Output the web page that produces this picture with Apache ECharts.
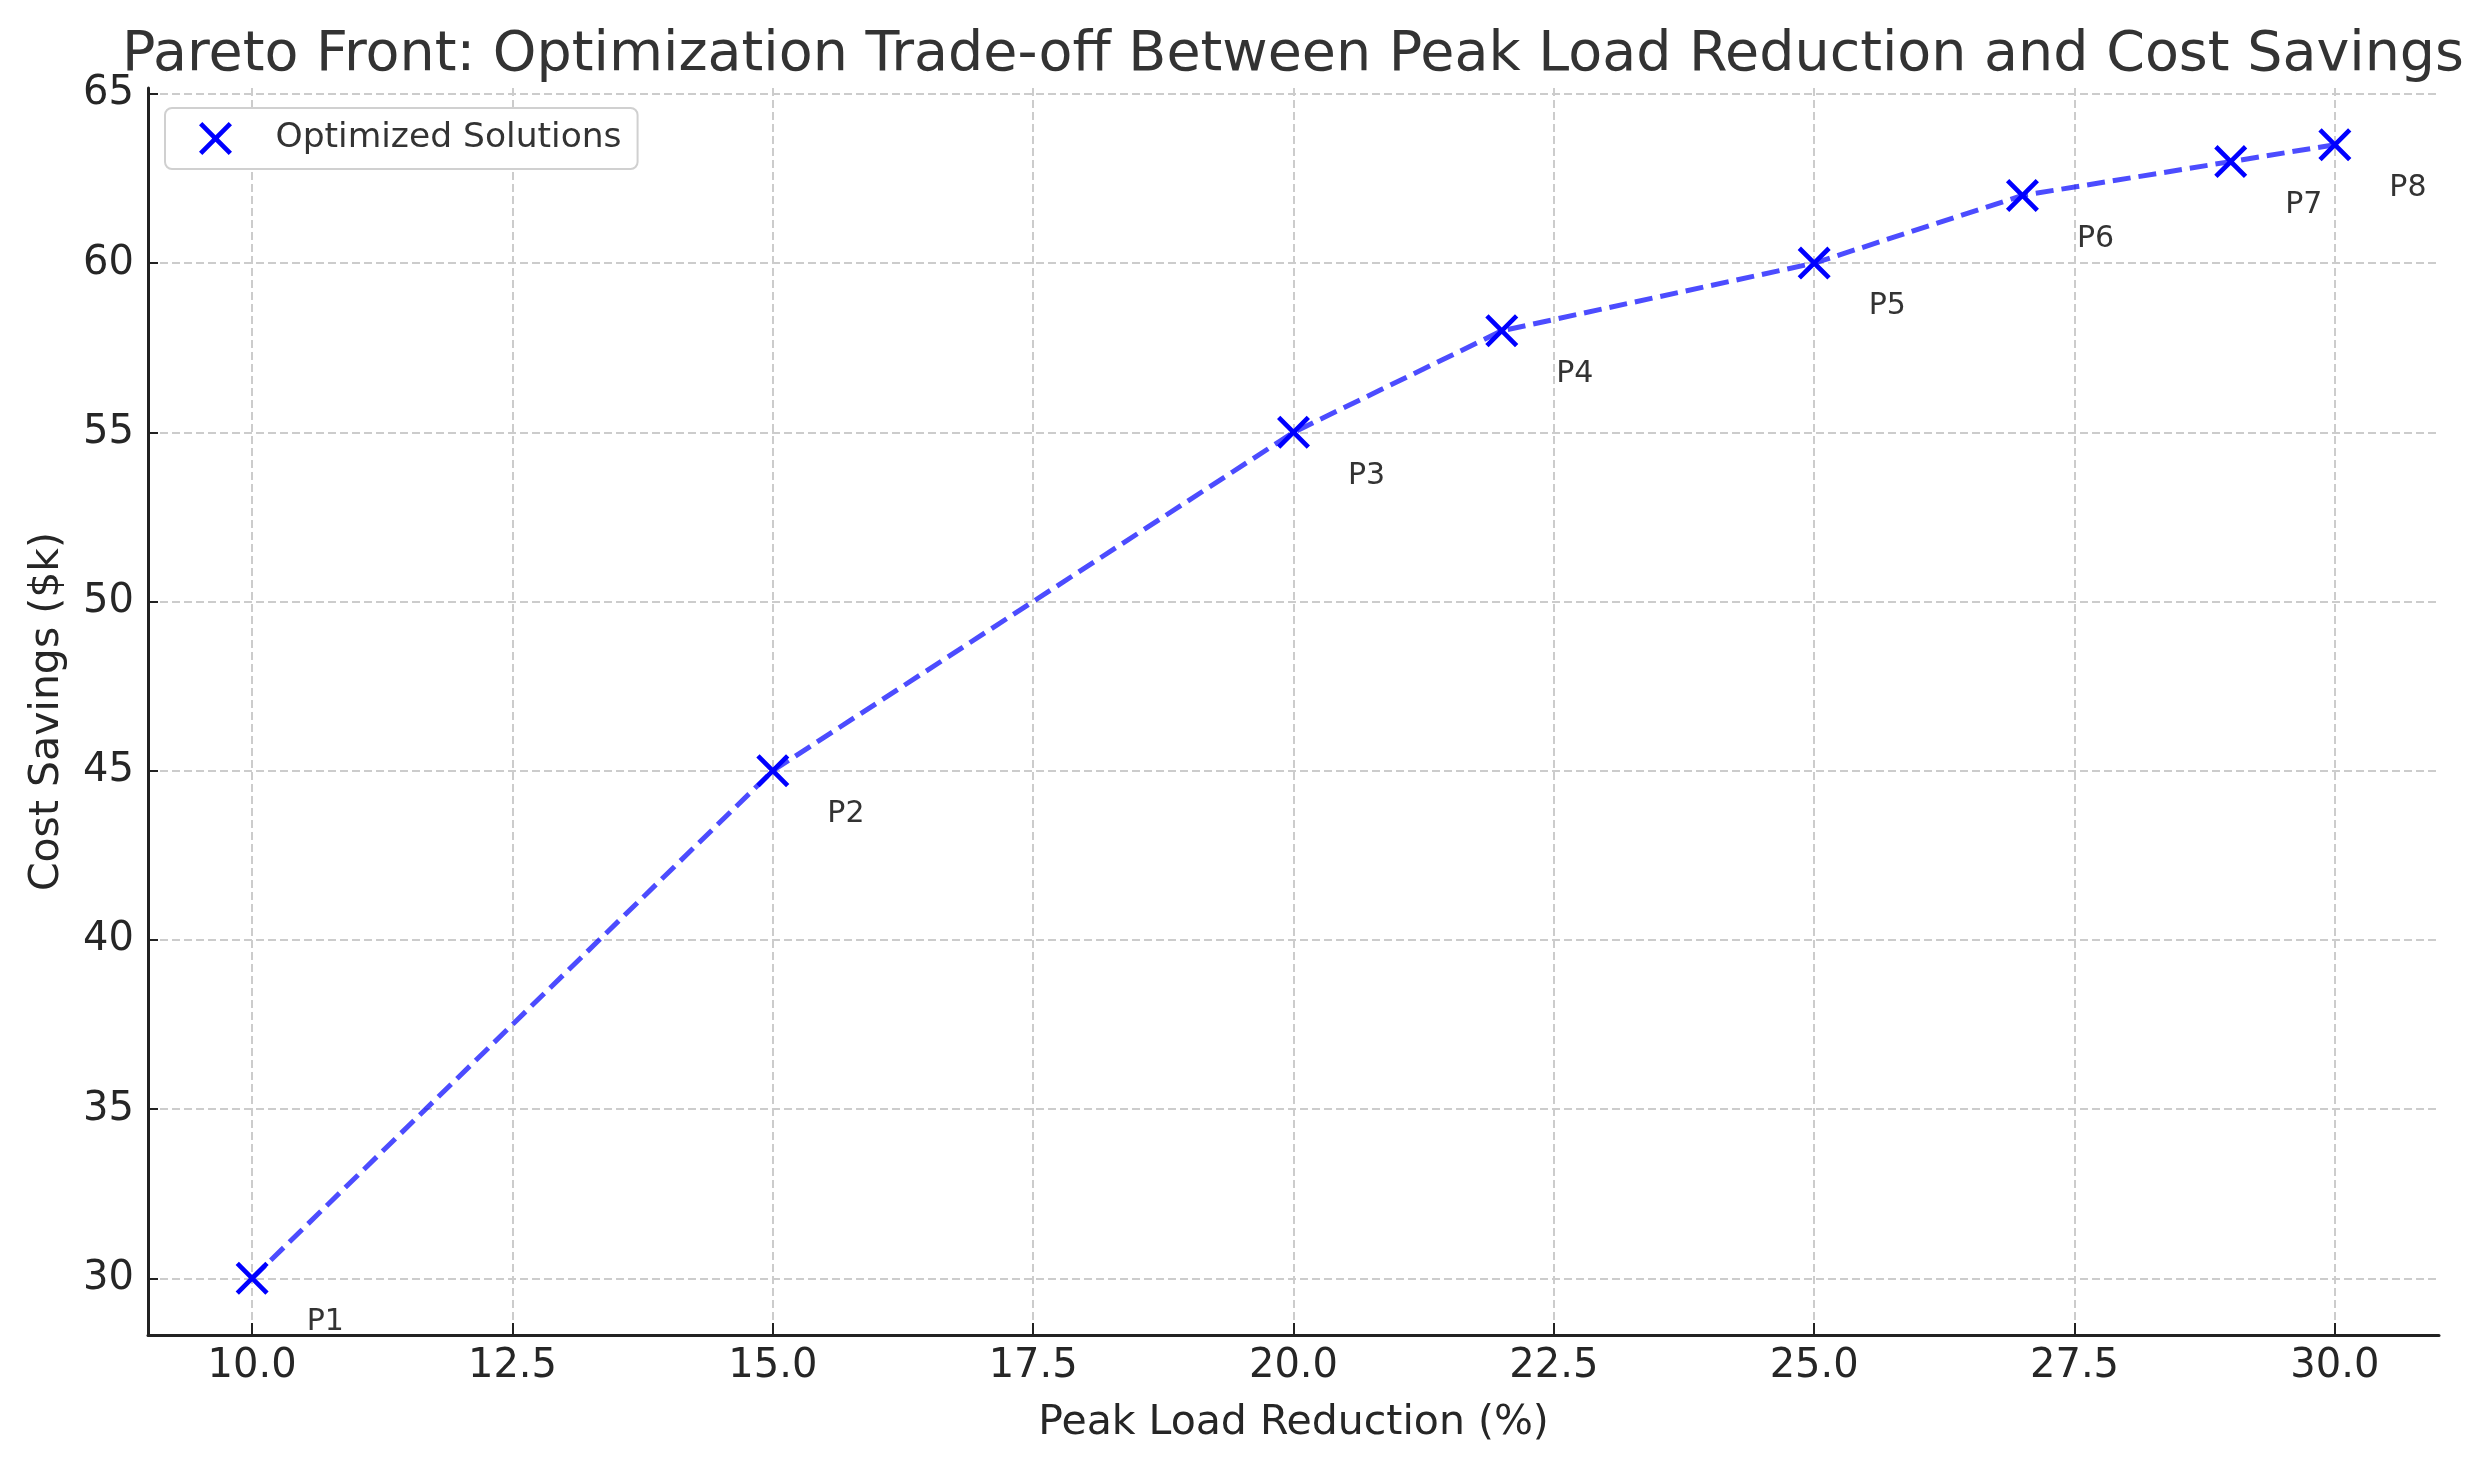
<!DOCTYPE html>
<html><head><meta charset="utf-8">
<script src="https://cdn.jsdelivr.net/npm/echarts@6/dist/echarts.min.js"></script>
<style>html,body{margin:0;padding:0;background:#fff}#c{width:2475px;height:1462px}</style>
</head><body><div id="c"></div>
<script>
const chartTitle = 'Pareto Front: Optimization Trade-off Between Peak Load Reduction and Cost Savings';
const xAxisName = 'Peak Load Reduction (%)';
const yAxisName = 'Cost Savings ($k)';
const seriesName = 'Optimized Solutions';
const pointLabels = ['P1', 'P2', 'P3', 'P4', 'P5', 'P6', 'P7', 'P8'];
const peakLoadReduction = [10, 15, 20, 22, 25, 27, 29, 30];
const costSavings = [30, 45, 55, 58, 60, 62, 63, 63.5];
const xTicks = [10, 12.5, 15, 17.5, 20, 22.5, 25, 27.5, 30];
const yTicks = [30, 35, 40, 45, 50, 55, 60, 65];

const FONT = 'DejaVu Sans';
const xPath = 'path://M0,10 L10,0 L50,40 L90,0 L100,10 L60,50 L100,90 L90,100 L50,60 L10,100 L0,90 L40,50 Z';
const points = peakLoadReduction.map((x, i) => [x, costSavings[i]]);

const chart = echarts.init(document.getElementById('c'), null, {renderer: 'canvas'});
const gridLine = {show: true, lineStyle: {color: '#cccccc', width: 2, type: [8, 4]}};
chart.setOption({
  backgroundColor: '#ffffff',
  animation: false,
  textStyle: {fontFamily: FONT},
  graphic: [{
    type: 'text', x: 1293, y: 56,
    style: {text: chartTitle, font: '55.5px "DejaVu Sans"', fill: '#333333', align: 'center', verticalAlign: 'middle'}
  }],
  grid: {left: 148, right: 36, top: 88, bottom: 127, containLabel: false},
  legend: {
    left: 165, top: 108,
    data: [{name: seriesName, icon: xPath}],
    itemWidth: 50, itemHeight: 33,
    padding: [13, 16, 13, 34],
    backgroundColor: '#ffffff',
    borderColor: '#d0d0d0', borderWidth: 2, borderRadius: 7,
    textStyle: {fontFamily: FONT, fontSize: 34.5, color: '#333333', padding: [0, 0, 0, 30]}
  },
  xAxis: {
    type: 'value', min: 9, max: 31,
    name: xAxisName, nameLocation: 'middle', nameGap: 68,
    nameTextStyle: {fontFamily: FONT, fontSize: 41, color: '#262626'},
    axisLine: {show: true, onZero: false, lineStyle: {color: '#222222', width: 3}},
    axisTick: {show: true, inside: true, length: 12, lineStyle: {color: '#222222', width: 2}, customValues: xTicks},
    axisLabel: {customValues: xTicks, fontFamily: FONT, fontSize: 40, color: '#262626', margin: 12,
      formatter: v => v.toFixed(1)},
    splitLine: gridLine
  },
  yAxis: {
    type: 'value', min: 28.325, max: 65.175,
    name: yAxisName, nameLocation: 'middle', nameGap: 80,
    nameTextStyle: {fontFamily: FONT, fontSize: 41, color: '#262626'},
    axisLine: {show: true, onZero: false, lineStyle: {color: '#222222', width: 3}},
    axisTick: {show: true, inside: true, length: 10, lineStyle: {color: '#222222', width: 2}, customValues: yTicks},
    axisLabel: {customValues: yTicks, fontFamily: FONT, fontSize: 40, color: '#262626', margin: 14,
      formatter: v => String(Math.round(v))},
    splitLine: gridLine
  },
  series: [
    {
      type: 'line', name: 'front', data: points, symbol: 'none', silent: true,
      lineStyle: {color: 'rgba(0,0,255,0.7)', width: 5, type: [18, 8]},
      z: 2
    },
    {
      type: 'scatter', name: seriesName, data: points,
      symbol: xPath, symbolSize: 33,
      itemStyle: {color: '#0000ff', opacity: 1},
      label: {
        show: true, position: [71, 60], align: 'left', verticalAlign: 'middle',
        fontFamily: FONT, fontSize: 30, color: '#333333',
        formatter: p => pointLabels[p.dataIndex]
      },
      z: 3
    }
  ]
});
</script>
</body></html>
